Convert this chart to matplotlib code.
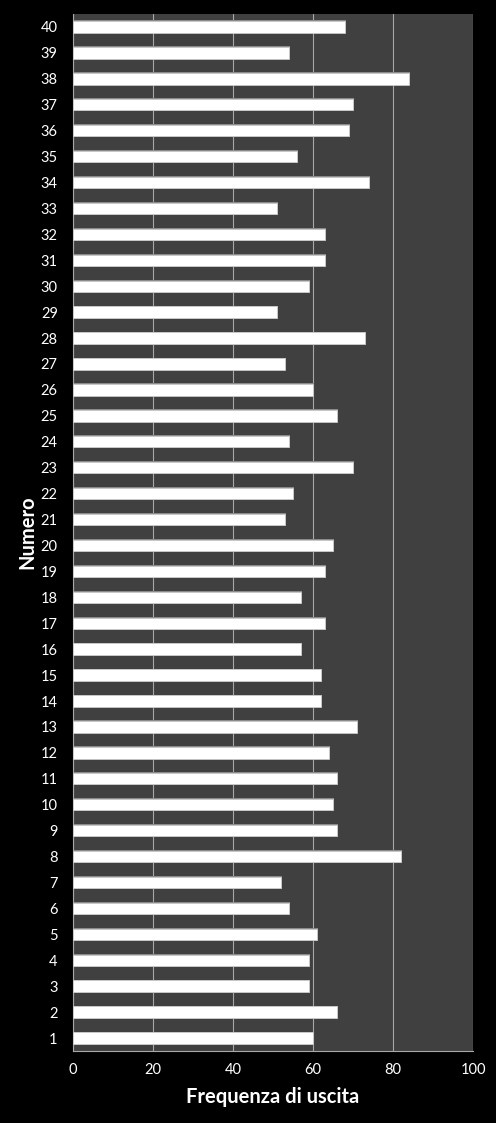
import matplotlib
matplotlib.use("Agg")
import matplotlib.pyplot as plt

numbers = list(range(1, 41))
frequencies = [60, 66, 59, 59, 61, 54, 52, 82, 66, 65,
               66, 64, 71, 62, 62, 57, 63, 57, 63, 65,
               53, 55, 70, 54, 66, 60, 53, 73, 51, 59,
               63, 63, 51, 74, 56, 69, 70, 84, 54, 68]
x_ticks = [0, 20, 40, 60, 80, 100]

plt.rcParams["font.family"] = ["Lato", "DejaVu Sans"]

fig = plt.figure(figsize=(4.96, 11.23), dpi=100, facecolor="black")
ax = fig.add_axes([73 / 496, 72 / 1123, 400 / 496, 1037 / 1123])
ax.set_facecolor("#404040")

# soft shadow under each bar, then the white bar on top
ax.barh(numbers, frequencies, height=0.50, left=0.15, color="#8a8a8a",
        zorder=2)
ax.barh(numbers, frequencies, height=0.44, color="white",
        edgecolor="#c8c8c8", linewidth=0.6, zorder=3)

ax.set_xlim(0, 100)
ax.set_ylim(0.5, 40.5)
ax.set_xticks(x_ticks)
ax.set_yticks(numbers)
ax.set_yticklabels([str(n) for n in numbers])
ax.xaxis.grid(True, color="#a8a8a8", linewidth=0.8, zorder=1)
ax.set_axisbelow(True)

for side in ["top", "right"]:
    ax.spines[side].set_visible(False)
for side in ["left", "bottom"]:
    ax.spines[side].set_color("#a8a8a8")
    ax.spines[side].set_linewidth(0.8)

ax.tick_params(axis="both", colors="white", labelsize=10.5, length=0)
ax.tick_params(axis="y", pad=11)
ax.tick_params(axis="x", pad=9)

ax.set_xlabel("Frequenza di uscita", color="white", fontsize=14.5,
              fontweight="bold", labelpad=7)
ax.set_ylabel("Numero", color="white", fontsize=14.5, fontweight="bold")
ax.yaxis.set_label_coords(-36 / 400, 0.5)

fig.savefig("out.png", dpi=100, facecolor="black")
